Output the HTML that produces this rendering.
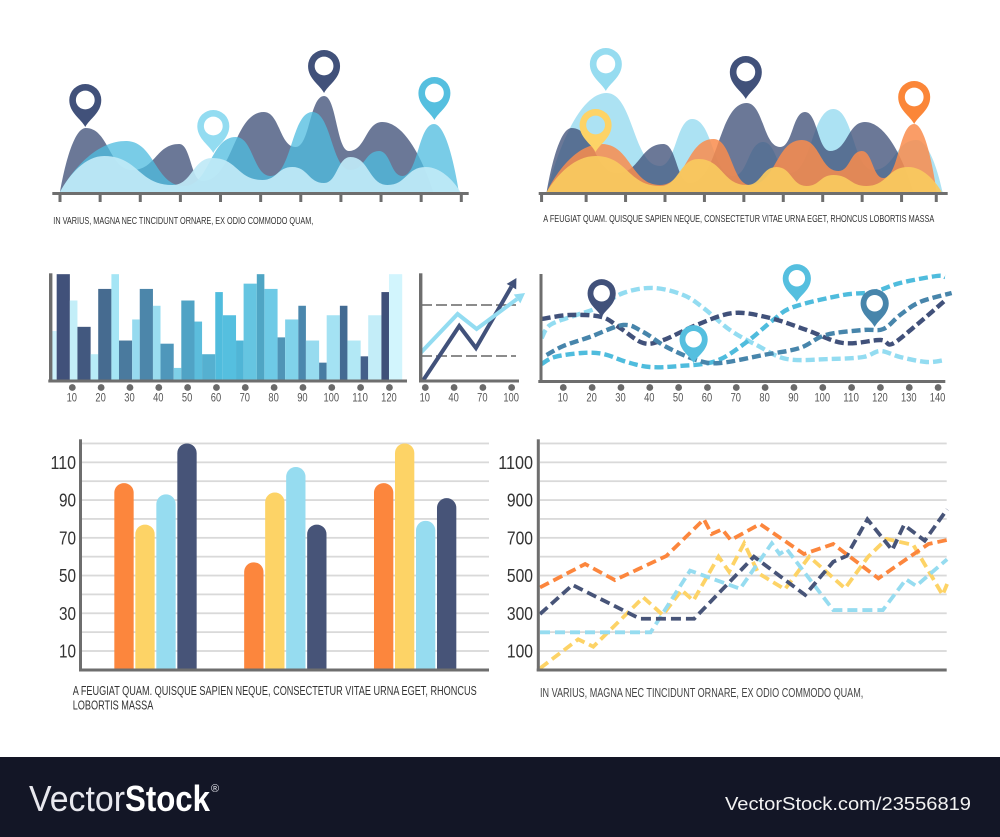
<!DOCTYPE html>
<html lang="en">
<head>
<meta charset="utf-8">
<title>Infographic charts</title>
<style>
html,body{margin:0;padding:0;background:#fff;}
svg{display:block;}
text{font-family:"Liberation Sans Narrow","Liberation Sans",sans-serif;}
.cap{fill:#333;font-size:10.5px;}
.tick{fill:#555;font-size:11.5px;text-anchor:middle;}
.ylab{fill:#333;font-size:18px;text-anchor:end;}
</style>
</head>
<body>
<svg id="root" xmlns="http://www.w3.org/2000/svg" width="1000" height="837" viewBox="0 0 1000 837">
  <rect x="0" y="0" width="1000" height="837" fill="#ffffff"/>
  <g id="area1"></g>
  <g id="area2"></g>
  <g id="bars"></g>
  <g id="arrows"></g>
  <g id="waves"></g>
  <g id="pills"></g>
  <g id="zigzag"></g>
  <text class="cap" x="53.3" y="224" textLength="260" lengthAdjust="spacingAndGlyphs">IN VARIUS, MAGNA NEC TINCIDUNT ORNARE, EX ODIO COMMODO QUAM,</text>
  <text class="cap" x="543.3" y="222" textLength="391" lengthAdjust="spacingAndGlyphs">A FEUGIAT QUAM. QUISQUE SAPIEN NEQUE, CONSECTETUR VITAE URNA EGET, RHONCUS LOBORTIS MASSA</text>
  <text class="cap" x="72.7" y="695" style="font-size:12.5px" textLength="404" lengthAdjust="spacingAndGlyphs">A FEUGIAT QUAM. QUISQUE SAPIEN NEQUE, CONSECTETUR VITAE URNA EGET, RHONCUS</text>
  <text class="cap" x="72.7" y="709.5" style="font-size:12.5px" textLength="80.6" lengthAdjust="spacingAndGlyphs">LOBORTIS MASSA</text>
  <text class="cap" x="540" y="697" style="font-size:12.5px;fill:#444" textLength="323.3" lengthAdjust="spacingAndGlyphs">IN VARIUS, MAGNA NEC TINCIDUNT ORNARE, EX ODIO COMMODO QUAM,</text>
  <rect x="0" y="757" width="1000" height="80" fill="#131626"/>
  <text x="29" y="811" fill="#e8e8ee" style="font-family:'Liberation Sans',sans-serif;font-size:36px" textLength="96" lengthAdjust="spacingAndGlyphs">Vector</text>
  <text x="125" y="811" fill="#ffffff" style="font-family:'Liberation Sans',sans-serif;font-size:36px;font-weight:bold" textLength="85" lengthAdjust="spacingAndGlyphs">Stock</text>
  <text x="211" y="792" fill="#e8e8ee" style="font-family:'Liberation Sans',sans-serif;font-size:11px">®</text>
  <text x="725" y="810" fill="#f2f2f2" style="font-family:'Liberation Sans',sans-serif;font-size:18px" textLength="246" lengthAdjust="spacingAndGlyphs">VectorStock.com/23556819</text>
</svg>
<script>
/* ---------- Area chart, left ---------- */
const a1DarkT  = [0,.64,1.8,2.97,3.55,5.08,5.87,6.58,7.2,8.03,9.3];
const a1DarkV  = [0,64,22,48,11,80,45,96,41,70,0];
const a1MidT   = [0,1.64,3.09,4.38,5.25,6.29,7.24,7.95,8.53,9.32,9.94];
const a1MidV   = [0,51,6,55,16,80,22,41,16,68,0];
const a1LightT = [0,1.1,2.8,3.8,5.04,5.79,6.58,7.24,8.16,9.11,9.98];
const a1LightV = [0,36,7,34,12,25,9,35,7,25,0];
const a1PinT   = [.63,3.82,6.58,9.33];
const a1PinV   = [65,39,99,72];
const a1Ticks  = [0,1,2,3,4,5,6,7,8,9,10];

/* ---------- Area chart, right ---------- */
const a2LightT  = [0,1.52,2.87,3.69,4.73,5.49,6.17,7.27,8.28,9.38,10.04];
const a2LightV  = [0,99,26,73,16,50,19,83,22,52,0];
const a2DarkT   = [0,.63,1.78,2.96,3.63,5.07,5.92,6.55,7.19,8.07,9.3];
const a2DarkV   = [0,64,19,48,9,89,45,80,41,70,0];
const a2OrangeT = [0,1.39,2.87,4.23,5.16,6.47,7.4,7.99,8.54,9.32,9.89];
const a2OrangeV = [0,48,7,53,7,52,21,41,14,68,0];
const a2YellowT = [0,1.24,2.87,3.85,5.07,5.83,6.59,7.27,8.11,9.17,10.02];
const a2YellowV = [0,36,6,33,7,25,6,17,6,25,0];
const a2PinT    = [1.5,1.24,5.05,9.32];
const a2PinV    = [101,40,93,68];
const a2Ticks   = [-.13,1,2,3,4,5,6,7,8,9,9.88];

/* ---------- Histogram ---------- */
const histValues = [46,100,75,50,24,86,100,37,57,86,70,34,11,75,55,24,83,61,37,91,100,86,40,57,70,37,16,61,70,37,22,61,83,100];
const histLabels = [10,20,30,40,50,60,70,80,90,100,110,120];

/* ---------- Arrow chart ---------- */
const arrowDarkX  = [8,45.4,62.8,105];
const arrowDarkY  = [0,54,32,102];
const arrowLightX = [5,43.7,63.5,114];
const arrowLightY = [27,66,51,87];
const arrowGuides = [75,24];
const arrowLabels = [10,40,70,100];

/* ---------- Dashed wave chart ---------- */
const waveNavyX  = [2.5,12.3,23.3,29.7,37.7,44.7,56.2,69,81.7,94.4,107,120,124,132.5,143];
const waveNavyY  = [61,65,63,52,37,40,55,67,62,50,37,40,36,55,81];
const wavePaleX  = [2.5,5.4,13.5,21.6,30.8,41.2,51.6,58.6,67.8,77,87.5,102.5,114,120,126.8,136,142.4];
const wavePaleY  = [42,55,64,72,87,92,85,72,50,35,21,21,23,29,23,18,20];
const waveSteelX = [4.2,10,19.2,30.8,37.7,45.8,56.2,64.3,79.4,92,101,114,121,126.8,133.7,144.7];
const waveSteelY = [25,34,43,55,48,33,20,17,25,32,45,50,51,65,78,87];
const waveCyanX  = [2.5,7,16.4,23.9,32,40,50.5,63,73.6,82.8,89.8,107,117.5,126.8,139.5,142.4];
const waveCyanY  = [16,23,27,26,18,13,14,19,38,60,73,85,88,97,104,103];
const wavePinX   = [23.3,55.2,91,118];
const wavePinY   = [63,17,78,53];
const waveLabels = [10,20,30,40,50,60,70,80,90,100,110,120,130,140];

/* ---------- Rounded bars ---------- */
const pillGroups = ['A','B','C'];
const pillOrange = [99,57,99];
const pillYellow = [77,94,120];
const pillBlue   = [93,107.5,79];
const pillNavy   = [120,77,91];
const pillLabels = [110,90,70,50,30,10];
const pillGrid   = [120,110,100,90,80,70,60,50,40,30,20,10];

/* ---------- Dashed line chart ---------- */
const lineYellowX = [0,9.4,13.1,25.4,30.2,34.8,37.7,43.9,46.5,50.2,53.7,60.2,66.2,75,80.7,85.2,91.8,99,100.1];
const lineYellowY = [8,162,123,384,291,423,367,600,520,671,512,427,600,432,600,694,662,397,455];
const lineLightX  = [0,27.2,36.9,49.2,57,58.9,60.7,72.1,84.3,90,92.5,100.1];
const lineLightY  = [199,199,526,430,671,614,639,317,317,480,445,586];
const lineNavyX   = [0,8,24.6,37.9,52.6,65.2,72.1,75.4,80.5,86.6,89.5,94.6,100.1];
const lineNavyY   = [296,450,271,271,600,397,573,604,798,635,768,685,851];
const lineOrangeX = [0,11.1,18.4,31.1,40.3,42.2,44.8,46.9,54.1,64.9,72.1,83.2,95.5,100];
const lineOrangeY = [437,561,476,604,798,720,745,688,773,614,667,485,667,688];
const lineLabels  = [1100,900,700,500,300,100];
const lineGrid    = [1200,1100,1000,900,800,700,600,500,400,300,200,100];

/* ---------- helpers ---------- */
const NS = 'http://www.w3.org/2000/svg';
const AXIS = '#6e6e6e';
function mk(tag, attrs, parent, txt){
  const el = document.createElementNS(NS, tag);
  for (const k in attrs) el.setAttribute(k, attrs[k]);
  if (txt !== undefined) el.textContent = txt;
  parent.appendChild(el);
  return el;
}
function fitText(el, perChar){
  el.setAttribute('textLength', String(el.textContent).length * perChar);
  el.setAttribute('lengthAdjust', 'spacingAndGlyphs');
}
function hillPath(xs, ys){
  let d = 'M' + xs[0] + ',' + ys[0];
  const n = xs.length;
  for (let i = 0; i < n - 1; i++){
    const dx = xs[i+1] - xs[i], dy = ys[i+1] - ys[i];
    let c1x = xs[i] + dx * .5, c1y = ys[i], c2x = xs[i+1] - dx * .5, c2y = ys[i+1];
    if (i === 0){ c1x = xs[i] + dx * .22; c1y = ys[i] + dy * .5; c2x = xs[i+1] - dx * .42; }
    if (i === n - 2){ c1x = xs[i] + dx * .42; c2x = xs[i+1] - dx * .22; c2y = ys[i+1] - dy * .5; }
    d += 'C' + c1x + ',' + c1y + ' ' + c2x + ',' + c2y + ' ' + xs[i+1] + ',' + ys[i+1];
  }
  return d + 'Z';
}
function smoothPath(xs, ys){
  let d = 'M' + xs[0] + ',' + ys[0];
  const n = xs.length;
  for (let i = 0; i < n - 1; i++){
    const a = Math.max(i - 1, 0), b = Math.min(i + 2, n - 1);
    const c1x = xs[i] + (xs[i+1] - xs[a]) / 6, c1y = ys[i] + (ys[i+1] - ys[a]) / 6;
    const c2x = xs[i+1] - (xs[b] - xs[i]) / 6, c2y = ys[i+1] - (ys[b] - ys[i]) / 6;
    d += 'C' + c1x + ',' + c1y + ' ' + c2x + ',' + c2y + ' ' + xs[i+1] + ',' + ys[i+1];
  }
  return d;
}
function pin(parent, tipX, tipY, color, scale, hole, name){
  const g = mk('g', {transform:'translate(' + tipX + ',' + tipY + ') scale(' + scale + ')'}, parent);
  
  
  const body = mk('path', {d:'M0,0C-4,-8 -16,-14 -16,-27A16,16 0 1 1 16,-27C16,-14 4,-8 0,0Z', fill:color}, g);
  
  
  const hl = mk('circle', {cx:0, cy:-27, r:9.4, fill:hole}, g);
  
  
}

/* ---------- area charts ---------- */
function areaChart(id, x0, unit, base, axisX0, axisX1, ticks, layers, pinTs, pinVs, pinStyle, prefix){
  const root = document.getElementById(id);
  const x = t => x0 + t * unit;
  const y = v => base - v;
  layers.forEach(l => {
    const p = mk('path', {d:hillPath(l.t.map(x), l.v.map(y)), fill:l.fill, 'fill-opacity':l.op}, root);
    
    
  });
  const ax = mk('rect', {x:axisX0, y:base, width:axisX1 - axisX0, height:3, fill:AXIS}, root);
  
  
  ticks.forEach(t => {
    const r = mk('rect', {x:x(t) - 1.5, y:base + 3, width:3, height:7, fill:AXIS}, root);
    
    
  });
  pinTs.forEach((t, i) => pin(root, x(t), y(pinVs[i]), pinStyle[i][0], 1, pinStyle[i][1], prefix + '-pin-' + (i + 1)));
}
areaChart('area1', 60, 40.13, 192, 52.3, 468.7, a1Ticks, [
  {t:a1DarkT, v:a1DarkV, fill:'#3f4f78', op:.77, name:'navy'},
  {t:a1MidT, v:a1MidV, fill:'#4fbcdf', op:.76, name:'blue'},
  {t:a1LightT, v:a1LightV, fill:'#bfe9f6', op:.93, name:'pale'}
], a1PinT, a1PinV, [['#41517a','#fff'],['#93dcf1','#fff'],['#41517a','#fff'],['#55bfdf','#fff']], 'area-left');
areaChart('area2', 546.7, 39.43, 192, 538.7, 947.7, a2Ticks, [
  {t:a2LightT, v:a2LightV, fill:'#ace2f3', op:1, name:'pale'},
  {t:a2DarkT, v:a2DarkV, fill:'#3f4f78', op:.77, name:'navy'},
  {t:a2OrangeT, v:a2OrangeV, fill:'#f98c4c', op:.85, name:'orange'},
  {t:a2YellowT, v:a2YellowV, fill:'#f9c95f', op:.93, name:'yellow'}
], a2PinT, a2PinV, [['#96dcf0','#fff'],['#fdd366','#ace2f3'],['#41517a','#fff'],['#fb8638','#fff']], 'area-right');

/* ---------- histogram ---------- */
(function(){
  const root = document.getElementById('bars');
  const palette = ['#cdf2fb','#41517a','#c3eef8','#42587f','#b8ecf7','#466b90','#a5e5f5','#4a7a9e','#96daef','#4c86aa','#9addf0','#4f97bb','#7fd0e8','#50a3c5','#5cbddc','#55b0d0','#50bcdd','#55bfdf','#50b5d6','#65c5e1','#4fa5c4','#6ecae6','#4f94b6','#80d2ea','#4b87ad','#97dbef','#477ca2','#a4e2f3','#436a92','#b2e8f5','#44608a','#c3edf8','#3f5079','#d2f5fd'];
  const base = 379.5, pxPerUnit = 1.0533;
  const xLeft = i => { const j = i - 1; return 56.67 + Math.floor(j / 2) * 20.77 + (((j % 2) + 2) % 2) * 13.2; };
  const width = i => ((i - 1) % 2 + 2) % 2 ? 7.57 : 13.2;
  histValues.forEach((v, i) => {
    const r = mk('rect', {x:xLeft(i), y:base - v * pxPerUnit, width:width(i), height:v * pxPerUnit, fill:palette[i % palette.length]}, root);
    
    
  });
  const ya = mk('rect', {x:49, y:273.3, width:3.4, height:108.5, fill:AXIS}, root);
  
  
  const xa = mk('rect', {x:48.3, y:379.5, width:358.7, height:3, fill:AXIS}, root);
  
  
  const xTick = v => 72.3 + (v - 10) * 2.883;
  histLabels.forEach(v => {
    const c = mk('circle', {cx:xTick(v), cy:387.5, r:3.4, fill:'#6a6a6a'}, root);
    
    
    const t = mk('text', {x:xTick(v) - .5, y:401.3, class:'tick'}, root, v);
    
    
    fitText(t, 5.2);
  });
})();

/* ---------- arrow chart ---------- */
(function(){
  const root = document.getElementById('arrows');
  const x = v => 425.3 + (v - 10) * .9593;
  const y = v => 380 - v;
  arrowGuides.forEach(g => {
    const l = mk('line', {x1:421, x2:516, y1:y(g), y2:y(g), stroke:'#666', 'stroke-width':1.6, 'stroke-dasharray':'11 4'}, root);
    
    
  });
  function arrow(xs, ys, color, name){
    const px = xs.map(x), py = ys.map(y), n = px.length;
    const dx = px[n-1] - px[n-2], dy = py[n-1] - py[n-2], len = Math.hypot(dx, dy);
    const ux = dx / len, uy = dy / len, bx = px[n-1] - ux * 10, by = py[n-1] - uy * 10;
    const pts = px.map((p, i) => i === n - 1 ? bx + ',' + by : p + ',' + py[i]).join(' ');
    const l = mk('polyline', {points:pts, fill:'none', stroke:color, 'stroke-width':4}, root);
    
    
    const h = mk('polygon', {points:px[n-1] + ',' + py[n-1] + ' ' + (bx - uy * 5.5) + ',' + (by + ux * 5.5) + ' ' + (bx + uy * 5.5) + ',' + (by - ux * 5.5), fill:color}, root);
    
    
  }
  arrow(arrowDarkX, arrowDarkY, '#41517a', 'arrow-navy');
  arrow(arrowLightX, arrowLightY, '#93dcf1', 'arrow-pale');
  const ya = mk('rect', {x:419, y:273.3, width:3.4, height:108.5, fill:AXIS}, root);
  
  
  const xa = mk('rect', {x:419, y:379.5, width:100, height:3, fill:AXIS}, root);
  
  
  arrowLabels.forEach(v => {
    const c = mk('circle', {cx:x(v), cy:387.5, r:3.4, fill:'#6a6a6a'}, root);
    
    
    const t = mk('text', {x:x(v) - .5, y:401.3, class:'tick'}, root, v);
    
    
    fitText(t, 5.2);
  });
})();

/* ---------- dashed wave chart ---------- */
(function(){
  const root = document.getElementById('waves');
  const x = v => 563.3 + (v - 10) * 2.883;
  const y = v => 380 - v;
  [[wavePaleX, wavePaleY, '#93dcf1', 'pale'], [waveCyanX, waveCyanY, '#4fbcdd', 'cyan'], [waveNavyX, waveNavyY, '#41517a', 'navy'], [waveSteelX, waveSteelY, '#4785ab', 'steel']].forEach(s => {
    const p = mk('path', {d:smoothPath(s[0].map(x), s[1].map(y)), fill:'none', stroke:s[2], 'stroke-width':4.4, 'stroke-dasharray':'9 4'}, root);
    
    
  });
  const colors = ['#41517a','#55bfdf','#55bfdf','#4785ab'];
  wavePinX.forEach((v, i) => pin(root, x(v), y(wavePinY[i]), colors[i], .88, '#fff', 'wave-pin-' + (i + 1)));
  const ya = mk('rect', {x:539.5, y:274, width:3, height:108, fill:AXIS}, root);
  
  
  const xa = mk('rect', {x:538.3, y:380, width:407, height:3, fill:AXIS}, root);
  
  
  waveLabels.forEach(v => {
    const c = mk('circle', {cx:x(v), cy:387.5, r:3.4, fill:'#6a6a6a'}, root);
    
    
    const t = mk('text', {x:x(v) - .5, y:401.3, class:'tick'}, root, v);
    
    
    fitText(t, 5.2);
  });
})();

/* ---------- rounded bar chart ---------- */
(function(){
  const root = document.getElementById('pills');
  const y = v => 669.87 - v * 1.8867;
  pillGrid.forEach(g => {
    const l = mk('rect', {x:82, y:y(g) - .9, width:407, height:1.8, fill:'#d9d9d9'}, root);
    
    
  });
  const base = 668.7, w = 19.33, r = 9.6;
  [[pillOrange,'#fc863d','orange'],[pillYellow,'#fdd366','yellow'],[pillBlue,'#96dcf0','blue'],[pillNavy,'#475478','navy']].forEach((s, si) => {
    pillGroups.forEach((grp, gi) => {
      const left = 114.33 + gi * 129.83 + si * 21, top = y(s[0][gi]);
      const d = 'M' + left + ',' + base + 'V' + (top + r) + 'A' + r + ',' + r + ' 0 0 1 ' + (left + r) + ',' + top + 'H' + (left + w - r) + 'A' + r + ',' + r + ' 0 0 1 ' + (left + w) + ',' + (top + r) + 'V' + base + 'Z';
      const p = mk('path', {d:d, fill:s[1]}, root);
      
      
    });
  });
  const ya = mk('rect', {x:79, y:439.3, width:3, height:232, fill:AXIS}, root);
  
  
  const xa = mk('rect', {x:79, y:668.5, width:410, height:3, fill:AXIS}, root);
  
  
  pillLabels.forEach(v => {
    const t = mk('text', {x:76, y:y(v) + 6.5, class:'ylab'}, root, v);
    
    
    fitText(t, 8.5);
  });
})();

/* ---------- dashed line chart ---------- */
(function(){
  const root = document.getElementById('zigzag');
  const x = v => 540 + v * 4.067;
  const y = v => 669.87 - v * .18867;
  lineGrid.forEach(g => {
    const l = mk('rect', {x:540, y:y(g) - .9, width:406.7, height:1.8, fill:'#d9d9d9'}, root);
    
    
  });
  [[lineYellowX,lineYellowY,'#fdd366','yellow'],[lineLightX,lineLightY,'#96dcf0','pale'],[lineNavyX,lineNavyY,'#475478','navy'],[lineOrangeX,lineOrangeY,'#fc863d','orange']].forEach(s => {
    const pts = s[0].map((v, i) => x(v) + ',' + y(s[1][i])).join(' ');
    const p = mk('polyline', {points:pts, fill:'none', stroke:s[2], 'stroke-width':3.8, 'stroke-dasharray':'10 5'}, root);
    
    
  });
  const ya = mk('rect', {x:536.8, y:439.3, width:3, height:232, fill:AXIS}, root);
  
  
  const xa = mk('rect', {x:536.7, y:668.5, width:410, height:3, fill:AXIS}, root);
  
  
  lineLabels.forEach(v => {
    const t = mk('text', {x:533, y:y(v) + 6.5, class:'ylab'}, root, v);
    
    
    fitText(t, 8.7);
  });
})();
</script>
</body>
</html>
